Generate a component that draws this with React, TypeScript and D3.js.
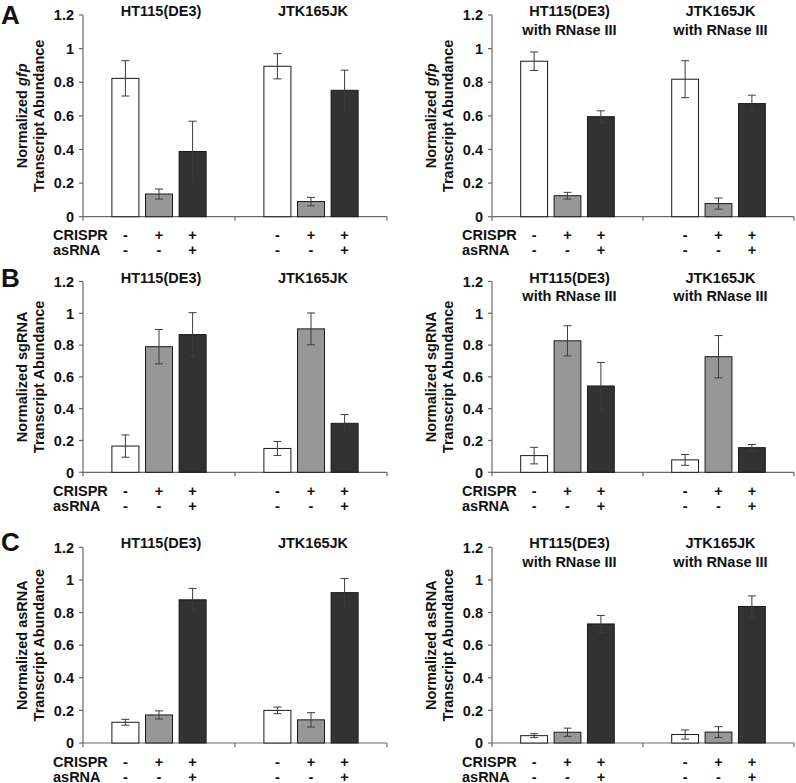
import React from "react";
import * as d3 from "d3";

// ---------- data ----------
const strains = ["HT115(DE3)", "JTK165JK"];
const strainsRNase = [["HT115(DE3)", "with RNase III"], ["JTK165JK", "with RNase III"]];
const conditions = ["none", "CRISPR", "CRISPR+asRNA"];
const crisprMarks = ["-", "+", "+"];
const asrnaMarks = ["-", "-", "+"];
const yTicks = [0, 0.2, 0.4, 0.6, 0.8, 1, 1.2];
const tickLabels = ["0", "0.2", "0.4", "0.6", "0.8", "1", "1.2"];

// values per strain: [white, gray, dark]
const gfpMean = [[0.823, 0.135, 0.388], [0.895, 0.09, 0.752]];
const gfpErr = [[0.105, 0.03, 0.18], [0.075, 0.025, 0.12]];
const gfpRMean = [[0.925, 0.125, 0.595], [0.818, 0.078, 0.673]];
const gfpRErr = [[0.055, 0.02, 0.035], [0.11, 0.033, 0.05]];

const sgMean = [[0.165, 0.79, 0.866], [0.15, 0.902, 0.308]];
const sgErr = [[0.07, 0.108, 0.138], [0.044, 0.1, 0.055]];
const sgRMean = [[0.105, 0.827, 0.543], [0.078, 0.727, 0.155]];
const sgRErr = [[0.052, 0.095, 0.148], [0.034, 0.133, 0.02]];

const asMean = [[0.127, 0.172, 0.878], [0.2, 0.142, 0.922]];
const asErr = [[0.018, 0.025, 0.07], [0.02, 0.044, 0.087]];
const asRMean = [[0.045, 0.066, 0.73], [0.052, 0.067, 0.837]];
const asRErr = [[0.012, 0.025, 0.052], [0.028, 0.033, 0.065]];

const fills = ["#ffffff", "#979797", "#323232"];

// ---------- layout ----------
const FONT = "'Liberation Sans', Arial, Helvetica, sans-serif";
const rowsLayout = [
  { letter: "A", top: 15, bottom: 216.7, letterY: 24, label: "gfp" },
  { letter: "B", top: 281.5, bottom: 472.3, letterY: 287, label: "sgRNA" },
  { letter: "C", top: 547.3, bottom: 743, letterY: 551, label: "asRNA" },
];
const panelsX = [
  { x0: 83, x1: 387 },
  { x0: 492, x1: 794 },
];

type PanelProps = {
  x0: number; x1: number; top: number; bottom: number;
  means: number[][]; errs: number[][]; titles: string[][]; label: string;
};

function Panel({ x0, x1, top, bottom, means, errs, titles, label }: PanelProps) {
  const y = d3.scaleLinear().domain([0, 1.2]).range([bottom, top]);
  const gx = d3.scaleBand<number>().domain(d3.range(strains.length)).range([x0, x1]).padding(0);
  const bx = d3.scaleBand<number>()
    .domain(d3.range(conditions.length))
    .range([0, gx.bandwidth()])
    .paddingInner(0.196)
    .paddingOuter(0.86);
  const axisColor = "#6a6a6a";
  const fs = 14.5;
  const cap = 4;
  return (
    <g fontFamily={FONT} fontWeight="bold">
      {/* y axis label */}
      <text
        transform={`translate(${x0 - 55.7},${(top + bottom) / 2}) rotate(-90)`}
        textAnchor="middle" fontSize={fs} fill="#111"
      >
        {label === "gfp" ? (
          <>
            <tspan>Normalized </tspan>
            <tspan fontStyle="italic">gfp</tspan>
          </>
        ) : (
          `Normalized ${label}`
        )}
      </text>
      <text
        transform={`translate(${x0 - 38.7},${(top + bottom) / 2}) rotate(-90)`}
        textAnchor="middle" fontSize={fs} fill="#111"
      >
        Transcript Abundance
      </text>
      {/* y axis */}
      <line x1={x0} x2={x0} y1={top} y2={bottom + 4} stroke={axisColor} strokeWidth={1.2} />
      {yTicks.map((t, i) => (
        <g key={t}>
          <line x1={x0 - 4} x2={x0} y1={y(t)} y2={y(t)} stroke={axisColor} strokeWidth={1.2} />
          <text x={x0 - 9} y={y(t)} dy="0.36em" textAnchor="end" fontSize={fs} fill="#111">
            {tickLabels[i]}
          </text>
        </g>
      ))}
      {/* x axis */}
      <line x1={x0} x2={x1} y1={bottom} y2={bottom} stroke={axisColor} strokeWidth={1.2} />
      {strains.map((_, g) => (
        <line key={g} x1={(gx(g) as number) + gx.bandwidth()} x2={(gx(g) as number) + gx.bandwidth()}
          y1={bottom} y2={bottom + 4} stroke={axisColor} strokeWidth={1.2} />
      ))}
      {/* bars */}
      {means.map((row, g) =>
        row.map((v, c) => {
          const bx0 = (gx(g) as number) + (bx(c) as number);
          const cx = bx0 + bx.bandwidth() / 2;
          const e = errs[g][c];
          return (
            <g key={`${g}-${c}`}>
              <rect x={bx0} y={y(v)} width={bx.bandwidth()} height={bottom - y(v)}
                fill={fills[c]} stroke="#1a1a1a" strokeWidth={1} />
              <line x1={cx} x2={cx} y1={y(v + e)} y2={y(Math.max(0, v - e))} stroke="#3c3c3c" strokeWidth={1} />
              <line x1={cx - cap} x2={cx + cap} y1={y(v + e)} y2={y(v + e)} stroke="#3c3c3c" strokeWidth={1} />
              <line x1={cx - cap} x2={cx + cap} y1={y(Math.max(0, v - e))} y2={y(Math.max(0, v - e))} stroke="#3c3c3c" strokeWidth={1} />
            </g>
          );
        })
      )}
      {/* group titles */}
      {titles.map((lines, g) => {
        const cx = (gx(g) as number) + gx.bandwidth() / 2 + 2;
        return (
          <text key={g} x={cx} y={top + 1} textAnchor="middle" fontSize={fs} fill="#111">
            {lines.map((l, i) => (
              <tspan key={i} x={cx} dy={i === 0 ? 0 : 18.5}>{l}</tspan>
            ))}
          </text>
        );
      })}
      {/* condition labels */}
      <text x={x0 - 30} y={bottom + 23.5} fontSize={fs} fill="#111">CRISPR</text>
      <text x={x0 - 30} y={bottom + 38.5} fontSize={fs} fill="#111">asRNA</text>
      {strains.map((_, g) =>
        conditions.map((_, c) => {
          const cx = (gx(g) as number) + (bx(c) as number) + bx.bandwidth() / 2;
          return (
            <g key={`${g}-${c}`}>
              <text x={cx} y={bottom + 23.5} textAnchor="middle" fontSize={fs} fill="#111">{crisprMarks[c]}</text>
              <text x={cx} y={bottom + 38.5} textAnchor="middle" fontSize={fs} fill="#111">{asrnaMarks[c]}</text>
            </g>
          );
        })
      )}
    </g>
  );
}

export default function App() {
  const data = [
    [gfpMean, gfpErr, gfpRMean, gfpRErr],
    [sgMean, sgErr, sgRMean, sgRErr],
    [asMean, asErr, asRMean, asRErr],
  ];
  return (
    <svg width={796} height={783} style={{ position: "absolute", left: 0, top: 0, background: "#fff" }}>
      <rect width={796} height={783} fill="#fff" />
      {rowsLayout.map((r, i) => (
        <g key={r.letter}>
          <text x={1} y={r.letterY} fontFamily={FONT} fontWeight="bold" fontSize={26} fill="#111">{r.letter}</text>
          <Panel x0={panelsX[0].x0} x1={panelsX[0].x1} top={r.top} bottom={r.bottom}
            means={data[i][0]} errs={data[i][1]} titles={strains.map((s) => [s])} label={r.label} />
          <Panel x0={panelsX[1].x0} x1={panelsX[1].x1} top={r.top} bottom={r.bottom}
            means={data[i][2]} errs={data[i][3]} titles={strainsRNase} label={r.label} />
        </g>
      ))}
    </svg>
  );
}
